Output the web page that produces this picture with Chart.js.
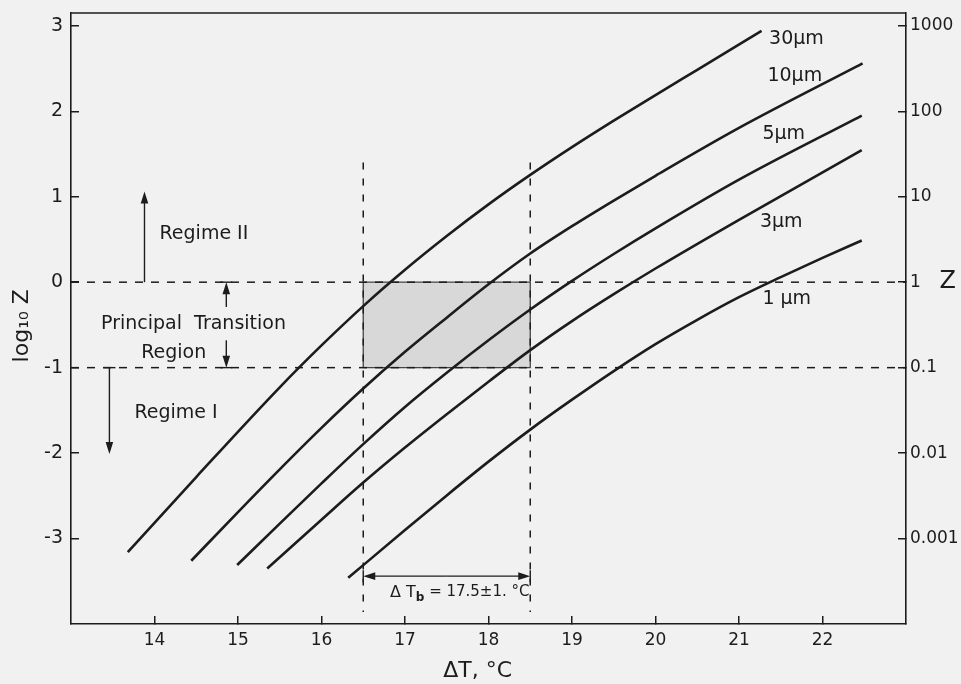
<!DOCTYPE html>
<html>
<head>
<meta charset="utf-8">
<script src="https://cdn.jsdelivr.net/npm/chart.js@4.4.0/dist/chart.umd.min.js"></script>
<style>
    html, body { margin: 0; padding: 0; background: #f1f1f1; }
    #wrap { width: 961px; height: 684px; }
</style>
</head>
<body>
<div id="wrap"><canvas id="chart" width="961" height="684"></canvas></div>
<script>
// -------- DATA --------
const xTicks = [14, 15, 16, 17, 18, 19, 20, 21, 22];
const yTicks = [-3, -2, -1, 0, 1, 2, 3];
const zTickLabels = ["0.001", "0.01", "0.1", "1", "10", "100", "1000"];

// particle size curves: ΔT (°C) vs log10 Z
const dT30 = [13.68, 14.5, 15.5, 16.0, 16.5, 17.0, 17.5, 18.0, 18.5, 19.0, 19.5, 20.0, 20.5, 21.27];
const logZ30 = [-3.16, -2.28, -1.23, -0.74, -0.28, 0.145, 0.54, 0.91, 1.255, 1.58, 1.89, 2.19, 2.485, 2.94];

const dT10 = [14.44, 15.0, 15.5, 16.0, 16.5, 17.0, 17.5, 18.0, 18.5, 19.0, 19.5, 20.0, 21.0, 22.48];
const logZ10 = [-3.26, -2.69, -2.19, -1.705, -1.245, -0.815, -0.415, -0.025, 0.335, 0.655, 0.955, 1.245, 1.805, 2.56];

const dT5 = [14.99, 15.5, 16.0, 16.5, 17.0, 17.5, 18.0, 18.5, 19.0, 19.5, 20.0, 21.0, 22.47];
const logZ5 = [-3.31, -2.825, -2.355, -1.895, -1.46, -1.06, -0.68, -0.32, 0.015, 0.33, 0.63, 1.2, 1.95];

const dT3 = [15.35, 16.0, 16.5, 17.0, 17.5, 18.0, 18.5, 19.0, 19.5, 20.0, 21.0, 22.47];
const logZ3 = [-3.35, -2.78, -2.345, -1.935, -1.545, -1.165, -0.795, -0.455, -0.14, 0.16, 0.73, 1.545];

const dT1 = [16.32, 17.0, 17.5, 18.0, 18.5, 19.0, 19.5, 20.0, 20.5, 21.0, 21.5, 22.0, 22.47];
const logZ1 = [-3.46, -2.9, -2.495, -2.1, -1.725, -1.375, -1.04, -0.725, -0.44, -0.175, 0.06, 0.285, 0.487];

const sizeNames = ["30μm", "10μm", "5μm", "3μm", "1 μm"];

// regime boundaries (log10 Z) and ΔTb band (°C)
const regimeBounds = [0, -1];
const bandEdges = [16.5, 18.5];
const bandGuideTop = 1.4;
const bandGuideBottom = -3.86;
const xRange = [13, 23];
const yRange = [-4, 3.15];

// -------- STYLE --------
const INK = "#1c1c1c";
const FONT = "'DejaVu Sans', sans-serif";

function pts(xs, ys) {
    return xs.map((x, i) => ({ x: x, y: ys[i] }));
}

const curves = [[dT30, logZ30], [dT10, logZ10], [dT5, logZ5], [dT3, logZ3], [dT1, logZ1]];

const datasets = [];

curves.forEach(([xs, ys], i) => {
    datasets.push({
        label: sizeNames[i],
        data: pts(xs, ys),
        showLine: true,
        borderColor: INK,
        borderWidth: 2.6,
        pointRadius: 0,
        cubicInterpolationMode: "monotone",
        fill: false,
        order: 0
    });
});

// shaded principal transition box
datasets.push({
    label: "box",
    data: [
        { x: bandEdges[0], y: regimeBounds[1] },
        { x: bandEdges[0], y: regimeBounds[0] },
        { x: bandEdges[1], y: regimeBounds[0] },
        { x: bandEdges[1], y: regimeBounds[1] },
        { x: bandEdges[0], y: regimeBounds[1] }
    ],
    showLine: true,
    borderColor: "#444",
    borderWidth: 1.3,
    backgroundColor: "#d8d8d8",
    pointRadius: 0,
    fill: "shape",
    order: 10
});

// dashed guide lines
regimeBounds.forEach(v => {
    datasets.push({
        label: "bound",
        data: [{ x: xRange[0], y: v }, { x: xRange[1], y: v }],
        showLine: true,
        borderColor: INK,
        borderWidth: 1.5,
        borderDash: [8, 8],
        pointRadius: 0,
        order: 5
    });
});
bandEdges.forEach(v => {
    datasets.push({
        label: "edge",
        data: [{ x: v, y: bandGuideTop }, { x: v, y: bandGuideBottom }],
        showLine: true,
        borderColor: INK,
        borderWidth: 1.5,
        borderDash: [7, 9],
        pointRadius: 0,
        order: 5
    });
});

// -------- ANNOTATIONS --------
const curveLabelPos = [[21.36, 2.85], [21.34, 2.41], [21.28, 1.73], [21.25, 0.70], [21.28, -0.20]];

const notes = [
    { text: "Regime II", x: 14.06, y: 0.56 },
    { text: "Principal  Transition", x: 13.36, y: -0.49 },
    { text: "Region", x: 13.84, y: -0.83 },
    { text: "Regime I", x: 13.76, y: -1.53 }
];

const arrows = [
    { x1: 13.88, y1: 0, x2: 13.88, y2: 1.06, bar: false },
    { x1: 13.46, y1: -1, x2: 13.46, y2: -2.01, bar: false, startBar: true },
    { x1: 14.86, y1: -0.29, x2: 14.86, y2: 0, bar: true },
    { x1: 14.86, y1: -0.68, x2: 14.86, y2: -1, bar: true },
    { x1: 17.5, y1: -3.44, x2: bandEdges[0], y2: -3.44, bar: true },
    { x1: 17.5, y1: -3.44, x2: bandEdges[1], y2: -3.44, bar: true }
];

function drawArrow(ctx, x1, y1, x2, y2, bar, startBar) {
    const ang = Math.atan2(y2 - y1, x2 - x1);
    const hl = 12, hw = 3.8;
    ctx.beginPath();
    ctx.moveTo(x1, y1);
    ctx.lineTo(x2 - Math.cos(ang) * 4, y2 - Math.sin(ang) * 4);
    ctx.stroke();
    ctx.beginPath();
    ctx.moveTo(x2, y2);
    ctx.lineTo(x2 - hl * Math.cos(ang) - hw * Math.sin(ang), y2 - hl * Math.sin(ang) + hw * Math.cos(ang));
    ctx.lineTo(x2 - hl * Math.cos(ang) + hw * Math.sin(ang), y2 - hl * Math.sin(ang) - hw * Math.cos(ang));
    ctx.closePath();
    ctx.fill();
    const px = -Math.sin(ang) * 6, py = Math.cos(ang) * 6;
    if (bar) {
        ctx.beginPath();
        ctx.moveTo(x2 - px, y2 - py);
        ctx.lineTo(x2 + px, y2 + py);
        ctx.stroke();
    }
    if (startBar) {
        ctx.beginPath();
        ctx.moveTo(x1 - px, y1 - py);
        ctx.lineTo(x1 + px, y1 + py);
        ctx.stroke();
    }
}

const overlay = {
    id: "overlay",
    afterDatasetsDraw(chart) {
        const { ctx, chartArea, scales } = chart;
        const x = scales.x, y = scales.y;
        ctx.save();

        // top frame line
        ctx.strokeStyle = INK;
        ctx.lineWidth = 1.6;
        ctx.beginPath();
        ctx.moveTo(chartArea.left, chartArea.top);
        ctx.lineTo(chartArea.right, chartArea.top);
        ctx.stroke();

        ctx.fillStyle = INK;
        ctx.textBaseline = "middle";
        ctx.textAlign = "left";

        // curve labels
        ctx.font = "19px " + FONT;
        sizeNames.forEach((name, i) => {
            const [lx, ly] = curveLabelPos[i];
            ctx.fillText(name, x.getPixelForValue(lx), y.getPixelForValue(ly));
        });

        // regime texts
        ctx.font = "19px " + FONT;
        notes.forEach(n => {
            ctx.fillText(n.text, x.getPixelForValue(n.x), y.getPixelForValue(n.y));
        });

        // arrows
        ctx.lineWidth = 1.4;
        arrows.forEach(a => {
            drawArrow(ctx, x.getPixelForValue(a.x1), y.getPixelForValue(a.y1),
                x.getPixelForValue(a.x2), y.getPixelForValue(a.y2), a.bar, a.startBar);
        });

        // ΔTb label
        let tx = x.getPixelForValue(16.82);
        const ty = y.getPixelForValue(-3.63);
        ctx.font = "16px " + FONT;
        ctx.fillText("Δ T", tx, ty);
        tx += ctx.measureText("Δ T").width;
        ctx.font = "bold 12px " + FONT;
        ctx.fillText("b", tx, ty + 5);
        tx += ctx.measureText("b").width;
        ctx.font = "15px " + FONT;
        ctx.fillText(" = 17.5±1. °C", tx, ty);

        // right axis name
        ctx.font = "24px " + FONT;
        ctx.fillText("Z", x.getPixelForValue(23.4), y.getPixelForValue(0));

        // axis titles
        ctx.font = "22px " + FONT;
        ctx.textAlign = "center";
        ctx.fillText("ΔT, °C", x.getPixelForValue(17.87), 671);
        ctx.translate(22, y.getPixelForValue(-0.51));
        ctx.rotate(-Math.PI / 2);
        ctx.fillText("log₁₀ Z", 0, 0);

        ctx.restore();
    }
};

const axisGrid = {
    drawOnChartArea: false,
    drawTicks: true,
    tickLength: -8,
    color: INK,
    lineWidth: 1.5
};
const axisBorder = { display: true, color: INK, width: 1.6 };

function noPad(s) {
    s.paddingTop = 0;
    s.paddingBottom = 0;
    s.paddingLeft = 0;
    s.paddingRight = 0;
}

new Chart(document.getElementById("chart"), {
    type: "scatter",
    data: { datasets },
    plugins: [overlay],
    options: {
        responsive: false,
        animation: false,
        layout: { padding: { top: 13, left: 0, right: 0, bottom: 0 } },
        plugins: {
            legend: { display: false },
            tooltip: { enabled: false }
        },
        scales: {
            x: {
                type: "linear",
                min: xRange[0],
                max: xRange[1],
                afterBuildTicks: s => { s.ticks = xTicks.map(v => ({ value: v })); },
                afterFit: s => { s.height = 60; noPad(s); },
                ticks: { autoSkip: false, maxRotation: 0, padding: 14, color: INK, font: { family: FONT, size: 17 } },
                grid: axisGrid,
                border: axisBorder
            },
            y: {
                type: "linear",
                position: "left",
                min: yRange[0],
                max: yRange[1],
                afterBuildTicks: s => { s.ticks = yTicks.map(v => ({ value: v })); },
                afterFit: s => { s.width = 71; noPad(s); },
                ticks: { padding: 16, color: INK, font: { family: FONT, size: 19 } },
                grid: axisGrid,
                border: axisBorder
            },
            yZ: {
                type: "linear",
                axis: "y",
                position: "right",
                min: yRange[0],
                max: yRange[1],
                afterBuildTicks: s => { s.ticks = yTicks.map(v => ({ value: v })); },
                afterFit: s => { s.width = 55; noPad(s); },
                ticks: {
                    padding: 12,
                    color: INK,
                    font: { family: FONT, size: 17 },
                    callback: v => zTickLabels[yTicks.indexOf(v)]
                },
                grid: axisGrid,
                border: axisBorder
            }
        }
    }
});
</script>
</body>
</html>
